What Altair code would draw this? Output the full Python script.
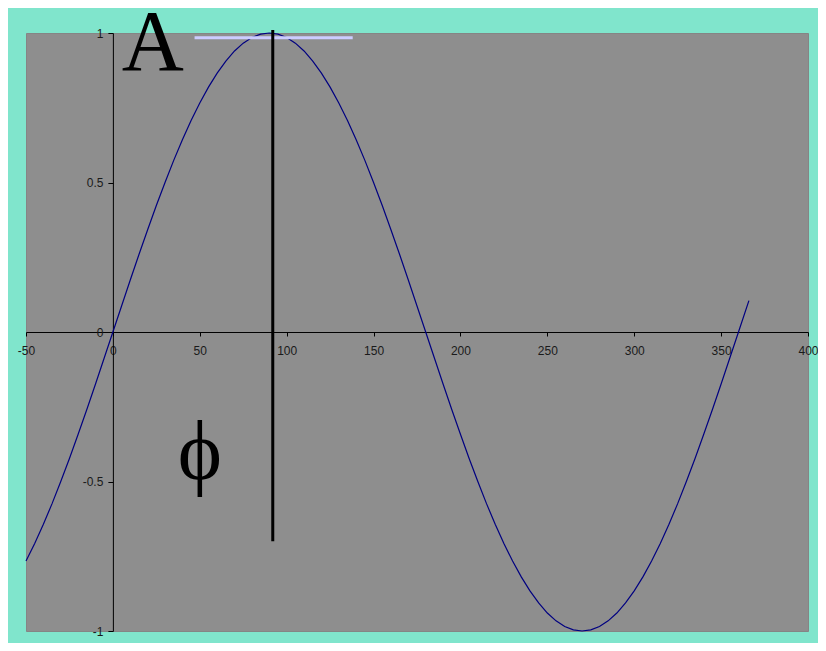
import altair as alt
import pandas as pd

# Sine curve (degrees -> amplitude)
curve_x = [-50, -45, -40, -35, -30, -25, -20, -15, -10, -5, 0, 5, 10, 15, 20, 25, 30, 35, 40, 45,
           50, 55, 60, 65, 70, 75, 80, 85, 90, 95, 100, 105, 110, 115, 120, 125, 130, 135, 140, 145,
           150, 155, 160, 165, 170, 175, 180, 185, 190, 195, 200, 205, 210, 215, 220, 225, 230, 235,
           240, 245, 250, 255, 260, 265, 270, 275, 280, 285, 290, 295, 300, 305, 310, 315, 320, 325,
           330, 335, 340, 345, 350, 355, 360, 366]
curve_y = [-0.766, -0.707, -0.643, -0.574, -0.5, -0.423, -0.342, -0.259, -0.174, -0.087, 0.0,
           0.087, 0.174, 0.259, 0.342, 0.423, 0.5, 0.574, 0.643, 0.707, 0.766, 0.819, 0.866, 0.906,
           0.94, 0.966, 0.985, 0.996, 1.0, 0.996, 0.985, 0.966, 0.94, 0.906, 0.866, 0.819, 0.766,
           0.707, 0.643, 0.574, 0.5, 0.423, 0.342, 0.259, 0.174, 0.087, 0.0, -0.087, -0.174, -0.259,
           -0.342, -0.423, -0.5, -0.574, -0.643, -0.707, -0.766, -0.819, -0.866, -0.906, -0.94,
           -0.966, -0.985, -0.996, -1.0, -0.996, -0.985, -0.966, -0.94, -0.906, -0.866, -0.819,
           -0.766, -0.707, -0.643, -0.574, -0.5, -0.423, -0.342, -0.259, -0.174, -0.087, 0.0, 0.105]

# Phase marker (vertical black line)
phase_x = [92]
phase_y_from = [-0.70]
phase_y_to = [1.01]

# Amplitude marker (lavender horizontal line)
amp_x_from = [47]
amp_x_to = [138]
amp_y = [0.984]

# Annotations
labels_text = ["A", "\u03d5"]
labels_x = [23, 50]
labels_y = [0.875, -0.49]
labels_size = [86, 84]

x_domain = [-50, 400]
y_domain = [-1, 1]
x_ticks = [-50, 0, 50, 100, 150, 200, 250, 300, 350, 400]
y_ticks = [-1, -0.5, 0, 0.5, 1]

W, H = 782, 598

curve_df = pd.DataFrame({"x": curve_x, "y": curve_y})
phase_df = pd.DataFrame({"x": phase_x, "y": phase_y_from, "y2": phase_y_to})
amp_df = pd.DataFrame({"x": amp_x_from, "x2": amp_x_to, "y": amp_y})
text_df = pd.DataFrame({"t": labels_text, "x": labels_x, "y": labels_y, "s": labels_size})

xscale = alt.Scale(domain=x_domain, nice=False, zero=False)
yscale = alt.Scale(domain=y_domain, nice=False, zero=False)

# Axes cross at zero (Excel style)
x_off = -H * (0 - y_domain[0]) / (y_domain[1] - y_domain[0])
y_off = -W * (0 - x_domain[0]) / (x_domain[1] - x_domain[0])

x_axis = alt.Axis(values=x_ticks, title=None, grid=False, offset=x_off, tickSize=4,
                  labelExpr="datum.value + ''", labelFlush=False, labelOverlap=False,
                  labelPadding=9, domainColor="black", tickColor="black")
y_axis = alt.Axis(values=y_ticks, title=None, grid=False, offset=y_off, tickSize=5,
                  labelExpr="datum.value + ''", labelFlush=False, labelOverlap=False,
                  labelPadding=5, domainColor="black", tickColor="black")

X = alt.X("x:Q", scale=xscale, axis=x_axis, title=None)
Y = alt.Y("y:Q", scale=yscale, axis=y_axis, title=None)

curve = alt.Chart(curve_df).mark_line(color="#000080", strokeWidth=1.2).encode(x=X, y=Y)

phase = alt.Chart(phase_df).mark_rule(color="black", strokeWidth=3).encode(
    x=X, y=Y, y2="y2:Q",
)

amp = alt.Chart(amp_df).mark_rule(color="#CCCCFF", strokeWidth=3).encode(
    x=X, x2="x2:Q", y=Y,
)

texts = alt.Chart(text_df).mark_text(font="Liberation Serif", color="black",
                                     align="center", baseline="alphabetic").encode(
    x=X, y=Y,
    text="t:N",
    size=alt.Size("s:Q", scale=None, legend=None),
)

chart = alt.layer(curve, amp, phase, texts).properties(
    width=W, height=H,
    background="#80E5CC",
    padding={"left": 18, "top": 25, "right": 10, "bottom": 12},
    autosize=alt.AutoSizeParams(type="none"),
).configure_view(
    fill="#8E8E8E", stroke="#858585", strokeWidth=1,
).configure_axis(
    labelFont="Liberation Sans", labelFontSize=12, labelColor="#1a1a1a",
    domainWidth=1, tickWidth=1,
)

chart.save("out.html", embed_options={"renderer": "svg", "actions": False})
